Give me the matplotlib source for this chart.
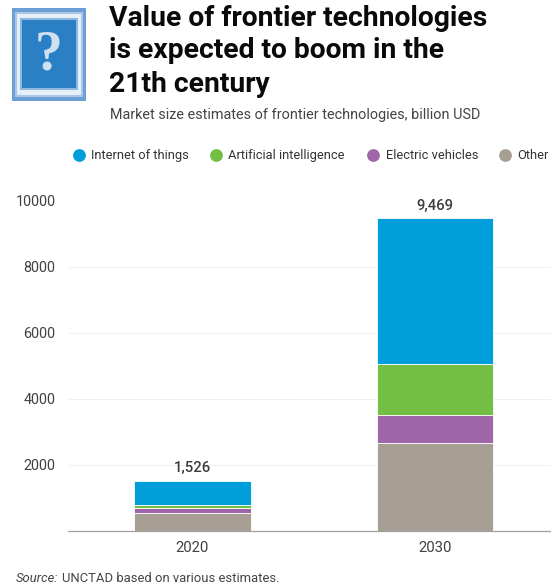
import matplotlib
matplotlib.use('Agg')
import matplotlib.pyplot as plt
from matplotlib.patches import Rectangle

plt.rcParams['font.family'] = ['Roboto', 'DejaVu Sans']

# Market size estimates, billion USD
years = ['2020', '2030']
other = [535, 2663]
electric = [170, 847]
ai = [82, 1543]
iot = [739, 4416]
totals = [1526, 9469]
y_ticks = [2000, 4000, 6000, 8000, 10000]

series = [
    ('Other', other, '#a89f94'),
    ('Electric vehicles', electric, '#a066aa'),
    ('Artificial intelligence', ai, '#72bf44'),
    ('Internet of things', iot, '#009edb'),
]

W, H = 551, 587
fig = plt.figure(figsize=(W / 100, H / 100), dpi=100)

# main chart
ax = fig.add_axes([68 / W, 1 - 531 / H, (W - 68) / W, (531 - 200.5) / H])
xs = range(len(years))
bottom = [0, 0]
for name, vals, col in series:
    ax.bar(xs, vals, width=0.48, bottom=bottom, color=col, edgecolor='white', linewidth=0.6, zorder=3)
    bottom = [b + v for b, v in zip(bottom, vals)]

for x, total in zip(xs, totals):
    ax.annotate(f'{total:,}', (x, total), xytext=(0, 4), textcoords='offset points',
                ha='center', va='bottom', fontsize=10.7, fontweight='medium', color='#3c3c3c')

ax.set_xlim(-0.513, 1.478)
ax.set_ylim(0, 10000)
ax.set_xticks(list(xs), years)
ax.set_yticks(y_ticks)
ax.tick_params(length=0, labelcolor='#404040')
ax.tick_params(axis='x', pad=7, labelsize=10.7)
ax.tick_params(axis='y', pad=9, labelsize=10.4)
ax.grid(axis='y', color='#dddddd', linewidth=0.6, linestyle=(0, (1, 1)), zorder=0)
for s in ['top', 'left', 'right']:
    ax.spines[s].set_visible(False)
ax.spines['bottom'].set_color('#a0a0a0')
ax.spines['bottom'].set_linewidth(0.9)

# overlay in pixel coordinates for header and legend
top = fig.add_axes([0, 0, 1, 1], zorder=5)
top.set_xlim(0, W)
top.set_ylim(H, 0)
top.axis('off')

# placeholder icon
top.add_patch(Rectangle((12, 8), 74, 93, color='#6c9fd6', lw=0))
top.add_patch(Rectangle((15, 12), 68, 85, color='#a9c7e8', lw=0))
top.add_patch(Rectangle((17, 14), 64, 81, color='#e6eff8', lw=0))
top.add_patch(Rectangle((20, 18), 58, 72, color='#8fb8e0', lw=0))
top.add_patch(Rectangle((22, 20), 54, 68, color='#2b7fc4', lw=0))
top.text(49, 55, '?', ha='center', va='center', fontsize=40, fontweight='bold',
         family='Liberation Serif', color='#cfe0f1')

title_lines = ['Value of frontier technologies', 'is expected to boom in the', '21th century']
for line, y in zip(title_lines, [18, 51, 85]):
    top.text(109, y, line, ha='left', va='center', fontsize=20.3, fontweight='bold', color='#0a0a0a')
top.text(110, 115, 'Market size estimates of frontier technologies, billion USD',
         ha='left', va='center', fontsize=10.35, color='#444444')

# legend
legend_items = [('Internet of things', '#009edb', 78.5), ('Artificial intelligence', '#72bf44', 216),
                ('Electric vehicles', '#a066aa', 373), ('Other', '#a89f94', 505)]
for name, col, x in legend_items:
    top.plot([x], [155], 'o', ms=9.2, color=col, mew=0)
    top.text(x + 12.5, 155.5, name, ha='left', va='center', fontsize=9.3, color='#333333')

top.text(16, 578, 'Source:', ha='left', va='center', fontsize=9.35, style='italic', color='#444444')
top.text(62, 578, 'UNCTAD based on various estimates.', ha='left', va='center', fontsize=9.35, color='#444444')

fig.savefig('out.png', dpi=100)
